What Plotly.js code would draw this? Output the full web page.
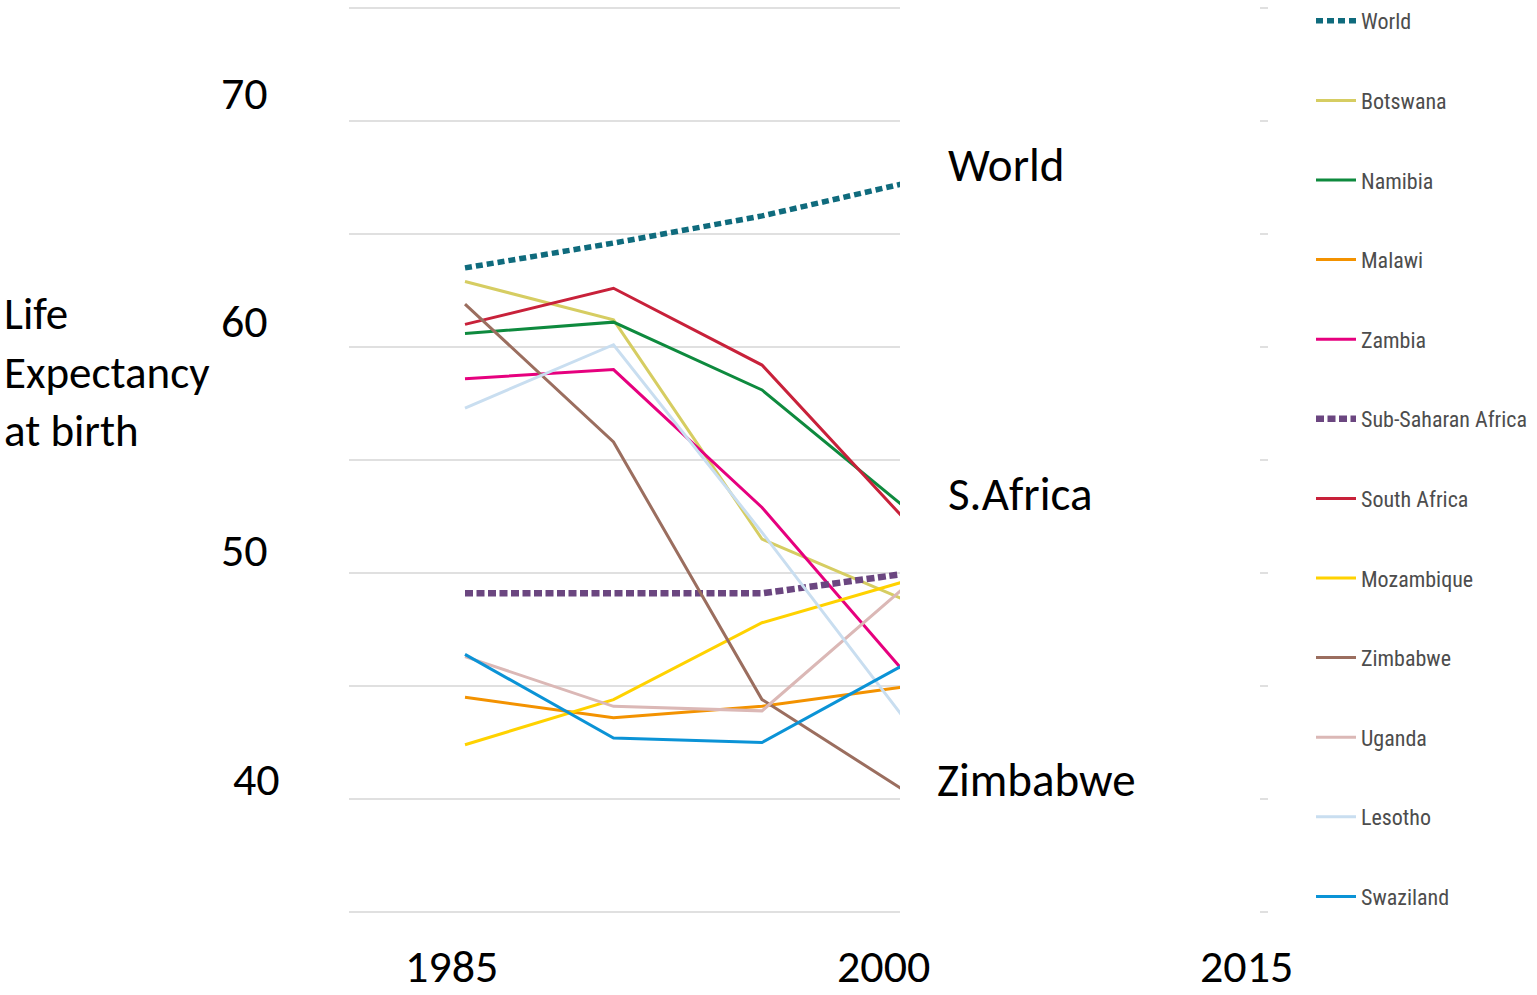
<!DOCTYPE html>
<html>
<head>
<meta charset="utf-8">
<script src="https://cdn.plot.ly/plotly-3.0.1.min.js"></script>
<style>
  html, body { margin: 0; padding: 0; background: #fff; overflow: hidden; width: 1537px; height: 995px; }
  #chart { width: 1537px; height: 995px; overflow: hidden; }
</style>
</head>
<body>
<div id="chart"></div>
<script>
// ---- data ----
const years = [1985, 1990, 1995, 2000];
const seriesNames = ["World", "Botswana", "Namibia", "Malawi", "Zambia", "Sub-Saharan Africa",
                     "South Africa", "Mozambique", "Zimbabwe", "Uganda", "Lesotho", "Swaziland"];
const world       = [63.5, 64.6, 65.8, 67.3];
const botswana    = [62.9, 61.2, 51.5, 48.7];
const namibia     = [60.6, 61.1, 58.1, 52.7];
const malawi      = [44.5, 43.6, 44.1, 45.0];
const zambia      = [58.6, 59.0, 52.9, 45.3];
const subSaharan  = [49.1, 49.1, 49.1, 50.0];
const southAfrica = [61.0, 62.6, 59.2, 52.1];
const mozambique  = [42.4, 44.4, 47.8, 49.7];
const zimbabwe    = [61.9, 55.8, 44.4, 40.2];
const uganda      = [46.3, 44.1, 43.9, 49.6];
const lesotho     = [57.3, 60.1, 51.8, 43.2];
const swaziland   = [46.4, 42.7, 42.5, 46.1];
const yTickLabels = ["70", "60", "50", "40"];
const xTickLabels = ["1985", "2000", "2015"];
const endLabels   = ["World", "S.Africa", "Zimbabwe"];
const yTitle      = "Life<br>Expectancy<br>at birth";

// ---- styles ----
const W = 1537, H = 995;
const px = x => x / W;
const py = y => 1 - y / H;

const styles = [
  {color: "#0f6b7d", width: 5.5, dash: "7px,4px"},
  {color: "#d6cd62", width: 3,   dash: "solid"},
  {color: "#0e8a3e", width: 3,   dash: "solid"},
  {color: "#f39200", width: 3,   dash: "solid"},
  {color: "#e6007e", width: 3,   dash: "solid"},
  {color: "#6b4680", width: 6.5, dash: "8px,3.5px"},
  {color: "#c8213a", width: 3,   dash: "solid"},
  {color: "#ffd200", width: 3,   dash: "solid"},
  {color: "#9b6e5f", width: 3,   dash: "solid"},
  {color: "#dbb8b6", width: 3,   dash: "solid"},
  {color: "#c9def0", width: 3,   dash: "solid"},
  {color: "#0b93d6", width: 3,   dash: "solid"}
];
const values = [world, botswana, namibia, malawi, zambia, subSaharan,
                southAfrica, mozambique, zimbabwe, uganda, lesotho, swaziland];

const traces = values.map((v, i) => ({
  type: "scatter",
  mode: "lines",
  x: years,
  y: v,
  name: seriesNames[i],
  legendgroup: "g" + i,
  line: {color: styles[i].color, width: styles[i].width, dash: styles[i].dash},
  hoverinfo: "x+y+name"
}));

const textFont = {family: "Carlito, Open Sans, sans-serif", size: 46, color: "#000"};

const annotations = [];
const yLabPos = [[245, 93], [245, 321], [245, 550], [256, 779]];
yTickLabels.forEach((t, i) => annotations.push({
  text: t, xref: "paper", yref: "paper", x: px(yLabPos[i][0]), y: py(yLabPos[i][1]),
  xanchor: "center", yanchor: "middle", showarrow: false, font: textFont
}));
const xLabPos = [[451, 995], [883, 995], [1246, 995]];
xTickLabels.forEach((t, i) => annotations.push({
  text: t, xref: "paper", yref: "paper", x: px(xLabPos[i][0]), y: py(xLabPos[i][1]),
  xanchor: "center", yanchor: "bottom", borderpad: 0, showarrow: false, font: textFont
}));
const endPos = [[946, 165], [946, 494], [935, 780]];
endLabels.forEach((t, i) => annotations.push({
  text: t, xref: "paper", yref: "paper", x: px(endPos[i][0]), y: py(endPos[i][1]),
  xanchor: "left", yanchor: "middle", showarrow: false, font: Object.assign({}, textFont, {size: 47})
}));
annotations.push({
  text: yTitle, xref: "paper", yref: "paper", x: px(2), y: py(372),
  xanchor: "left", yanchor: "middle", align: "left", showarrow: false,
  font: Object.assign({}, textFont, {size: 45})
});

// x scale: 1985 at 465 px, 1995 at 762 px; plot spans 349..1268 px
const pxPerYear = (762 - 465) / 10;
const yr = p => 1985 + (p - 465) / pxPerYear;

const layout = {
  width: W, height: H,
  margin: {l: 0, r: 0, t: 0, b: 0, pad: 0},
  paper_bgcolor: "#fff",
  plot_bgcolor: "rgba(0,0,0,0)",
  showlegend: true,
  legend: {
    x: px(1311), y: py(0), xanchor: "left", yanchor: "top",
    font: {family: "Roboto Condensed, DejaVu Sans Condensed, sans-serif", size: 22, color: "#4d4d4d"},
    traceorder: "grouped",
    tracegroupgap: 48,
    itemwidth: 40,
    bgcolor: "rgba(0,0,0,0)",
    borderwidth: 0
  },
  xaxis: {
    domain: [px(349), px(1268)],
    range: [yr(349), yr(1268)],
    showgrid: false, zeroline: false, showline: false, showticklabels: false, ticks: ""
  },
  yaxis: {
    domain: [1 - 916.52 / H, 1 - 3.48 / H],
    range: [34.8, 75.2],
    tick0: 35, dtick: 5,
    showgrid: true, gridcolor: "#e0e0e0", gridwidth: 2,
    zeroline: false, showline: false, showticklabels: false, ticks: ""
  },
  shapes: [{
    type: "rect", xref: "x", yref: "paper",
    x0: yr(900), x1: yr(1260), y0: 0, y1: 1,
    fillcolor: "#fff", line: {width: 0}, layer: "above"
  }],
  annotations: annotations
};

Plotly.newPlot("chart", traces, layout, {displayModeBar: false, staticPlot: true});
</script>
</body>
</html>
